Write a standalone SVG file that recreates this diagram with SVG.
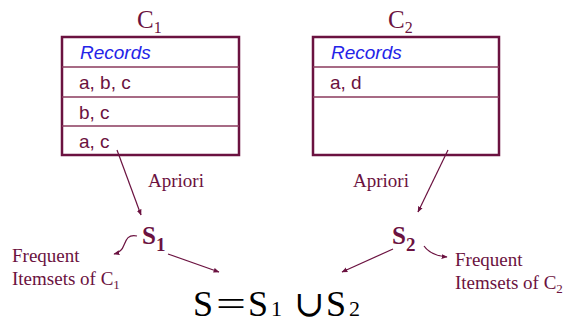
<svg xmlns="http://www.w3.org/2000/svg" width="566" height="324" viewBox="0 0 566 324">
<defs>
<marker id="ah" viewBox="0 0 10 10" refX="9" refY="5" markerWidth="6" markerHeight="6" orient="auto" markerUnits="userSpaceOnUse">
<path d="M0,1 L10,5 L0,9 Z" fill="#6b1240"/>
</marker>
<style>
.box{fill:#fff;stroke:#6b1240;stroke-width:2.5}
.row{stroke:#8a3a5c;stroke-width:1.5}
.hd{font-family:'Liberation Sans',Arial,sans-serif;font-size:19px;font-style:italic;fill:#2424e8}
.cell{font-family:'Liberation Sans',Arial,sans-serif;font-size:19px;fill:#6b1240}
.ser{font-family:'Liberation Serif','Times New Roman','DejaVu Serif',serif;fill:#6b1240}
.lbl{font-size:19px}
.cap{font-size:25px}
.sn{font-size:25px;font-weight:bold}
.conn{fill:none;stroke:#6b1240;stroke-width:1.2;marker-end:url(#ah)}
.eq{font-family:'Liberation Serif','Times New Roman','DejaVu Serif',serif;fill:#000;font-size:36px}
.sub{font-size:22px}
</style>
</defs>
<g id="C1">
<text class="ser cap" x="137" y="28">C<tspan font-size="16" dy="5">1</tspan></text>
<rect class="box" x="62" y="37" width="177" height="118"/>
<line class="row" x1="62" y1="67" x2="239" y2="67"/>
<line class="row" x1="62" y1="97" x2="239" y2="97"/>
<line class="row" x1="62" y1="126" x2="239" y2="126"/>
<text class="hd" x="80" y="59">Records</text>
<text class="cell" x="79" y="89">a, b, c</text>
<text class="cell" x="79" y="119">b, c</text>
<text class="cell" x="79" y="148">a, c</text>
</g>
<g id="C2">
<text class="ser cap" x="388" y="28">C<tspan font-size="16" dy="5">2</tspan></text>
<rect class="box" x="313" y="37" width="186" height="118"/>
<line class="row" x1="313" y1="67" x2="499" y2="67"/>
<line class="row" x1="313" y1="97" x2="499" y2="97"/>
<text class="hd" x="331" y="59">Records</text>
<text class="cell" x="330" y="89">a, d</text>
</g>
<g id="S1">
<text class="ser sn" x="142" y="244">S<tspan font-size="19" dy="7">1</tspan></text>
</g>
<g id="S2">
<text class="ser sn" x="392" y="244">S<tspan font-size="19" dy="7">2</tspan></text>
</g>
<g id="F1">
<text class="ser lbl" x="12" y="262">Frequent</text>
<text class="ser lbl" x="12" y="285">Itemsets of C<tspan font-size="13" dy="4">1</tspan></text>
</g>
<g id="F2">
<text class="ser lbl" x="455" y="266">Frequent</text>
<text class="ser lbl" x="455" y="289">Itemsets of C<tspan font-size="13" dy="4">2</tspan></text>
</g>
<g id="S">
<text class="eq" x="193" y="316">S</text>
<text class="eq" x="216" y="316" textLength="30" lengthAdjust="spacingAndGlyphs">=</text>
<text class="eq" x="248" y="316">S</text>
<text class="eq sub" x="271" y="316">1</text>
<text class="eq" x="294" y="316" font-weight="normal">∪</text>
<text class="eq" x="326" y="316">S</text>
<text class="eq sub" x="349" y="316">2</text>
</g>
<g id="connectors">
<path class="conn" d="M117,150 L141,215"/>
<path class="conn" d="M448,150 L418,212"/>
<path class="conn" d="M137,236 C128,234 126,240 124,245 C122,251 118,253 114,254"/>
<path class="conn" d="M424,246 C428,252 436,256 447,257"/>
<path class="conn" d="M168,254 L219,272"/>
<path class="conn" d="M393,249 L342,272"/>
<text class="ser lbl" x="148" y="187">Apriori</text>
<text class="ser lbl" x="353" y="187">Apriori</text>
</g>
</svg>
